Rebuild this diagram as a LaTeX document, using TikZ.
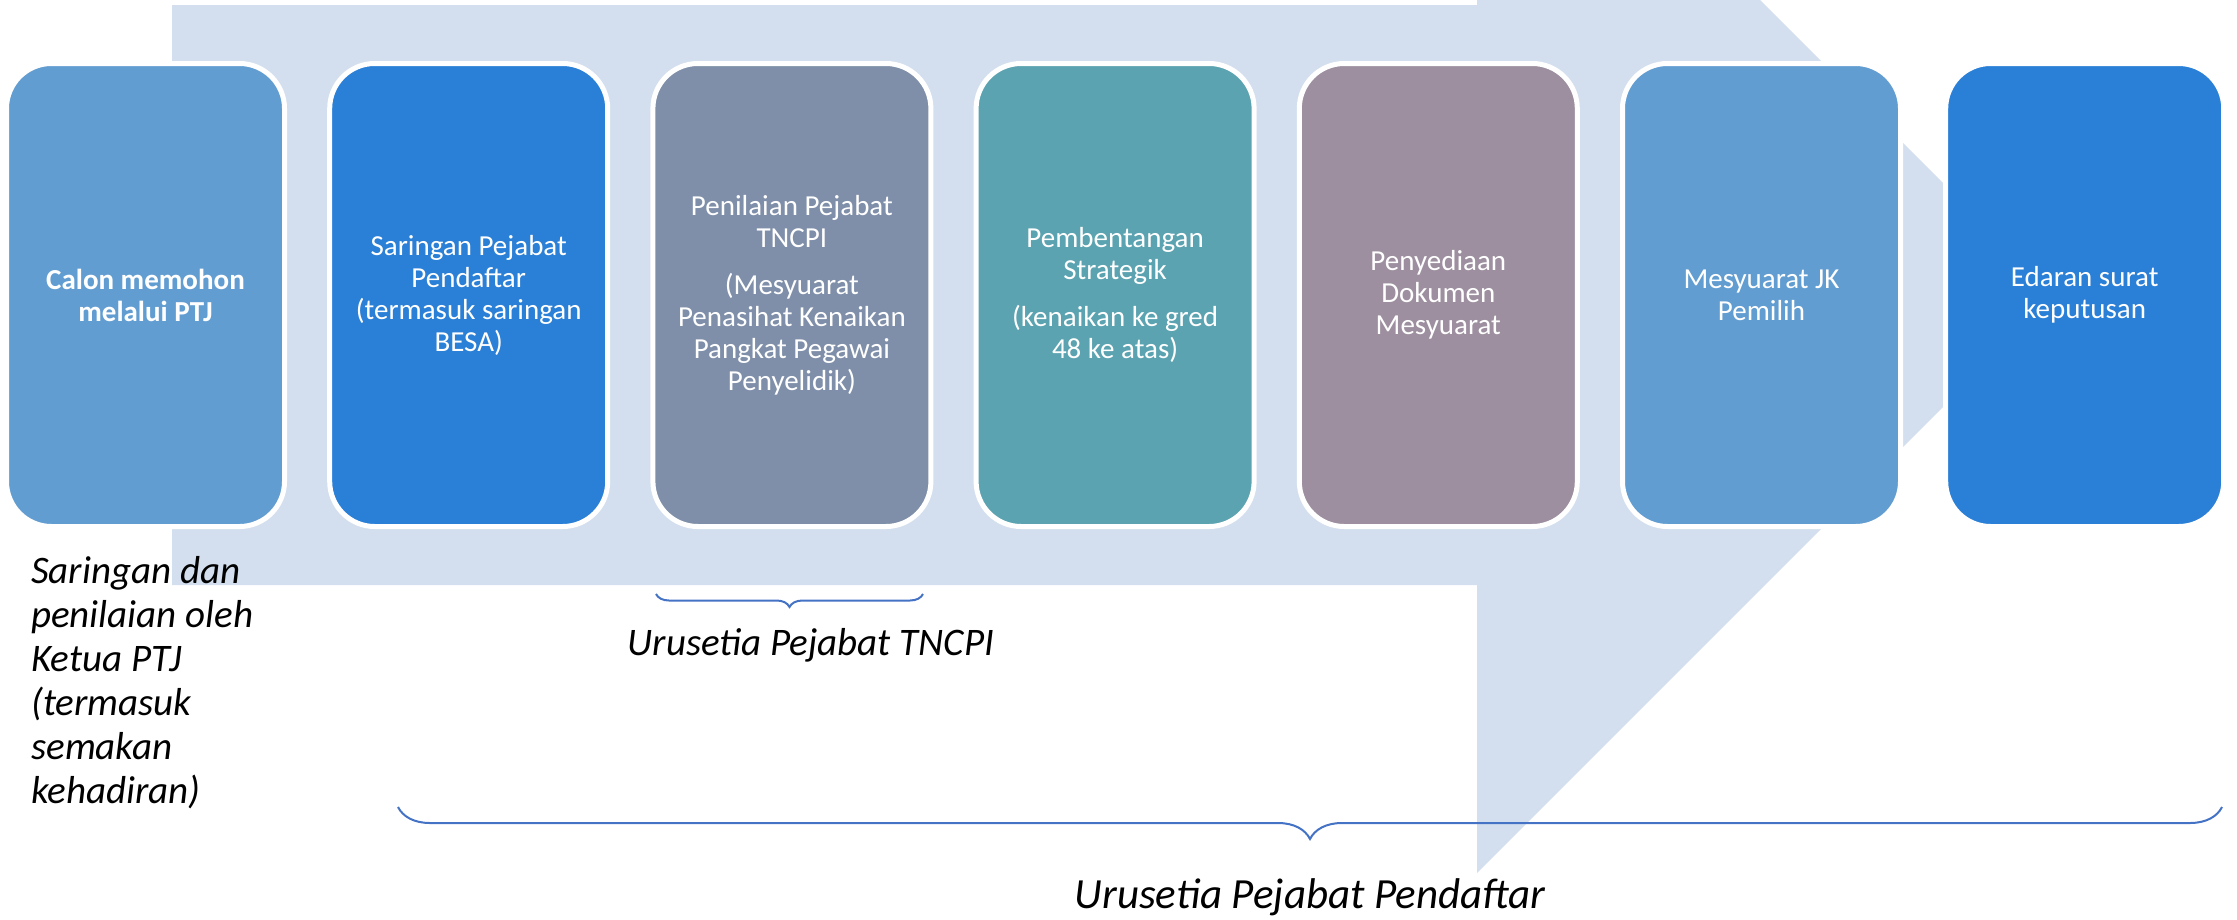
\documentclass[tikz,border=0pt]{standalone}
\usepackage{fontspec}
\setmainfont{Carlito}
\usetikzlibrary{positioning,decorations.pathreplacing}

% warna
\definecolor{latar}{HTML}{D3DFEE}
\definecolor{biruA}{HTML}{629DD1}
\definecolor{biruB}{HTML}{2A7FD6}
\definecolor{kelabu}{HTML}{7F8FA9}
\definecolor{hijau}{HTML}{5BA3B0}
\definecolor{ungu}{HTML}{9D8F9F}
\definecolor{garis}{HTML}{4472C4}

\tikzset{
	langkah/.style={draw=white, line width=5pt, rounded corners=45pt,
		minimum width=278pt, minimum height=463pt, inner sep=0pt,
		text=white, align=center, font=\fontsize{29}{32}\selectfont},
	kurungan/.style={draw=garis, line width=2pt, decorate,
		decoration={brace, mirror, amplitude=#1}},
	nota/.style={inner sep=0pt, font=\fontsize{39}{44}\selectfont\itshape}
}

\begin{document}
\begin{tikzpicture}[x=1pt, y=-1pt]
			\useasboundingbox (0,0) rectangle (2237,919);

			% anak panah latar
			\begin{scope}
				\clip (0,0) rectangle (2237,919);
				\fill[latar] (172,5) -- (1477,5) -- (1477,-283) -- (2055,295)
					-- (1477,873) -- (1477,585) -- (172,585) -- cycle;
			\end{scope}

			% langkah proses
			\node[langkah, fill=biruA] (calon) at (145.5,295)
				{\bfseries Calon memohon\\\bfseries melalui PTJ};
			\node[langkah, fill=biruB] (saringan) at (468.7,295)
				{Saringan Pejabat\\Pendaftar\\(termasuk saringan\\BESA)};
			\node[langkah, fill=kelabu] (penilaian) at (791.9,295)
				{Penilaian Pejabat\\TNCPI\\[15pt](Mesyuarat\\Penasihat Kenaikan\\Pangkat Pegawai\\Penyelidik)};
			\node[langkah, fill=hijau] (pembentangan) at (1115.1,295)
				{Pembentangan\\Strategik\\[15pt](kenaikan ke gred\\48 ke atas)};
			\node[langkah, fill=ungu] (penyediaan) at (1438.3,295)
				{Penyediaan\\Dokumen\\Mesyuarat};
			\node[langkah, fill=biruA] (mesyuarat) at (1761.5,295)
				{Mesyuarat JK\\Pemilih};
			\node[langkah, fill=biruB] (edaran) at (2084.7,295)
				{Edaran surat\\keputusan};

			% nota kiri
			\node[nota, anchor=north west, align=left] (notaPTJ) at (31,556)
				{Saringan dan\\penilaian oleh\\Ketua PTJ\\(termasuk\\semakan\\kehadiran)};

			% kurungan TNCPI
			\coordinate (tncpiKiri) at (656,594);
			\coordinate (tncpiKanan) at (923,594);
			\draw[kurungan=13pt] (tncpiKiri) -- (tncpiKanan);
			\node[nota, anchor=base] (notaTNCPI) at (811,655) {Urusetia Pejabat TNCPI}; %label

			% kurungan Pendaftar
			\coordinate (daftarKiri) at (398,807);
			\coordinate (daftarKanan) at (2222,807);
			\draw[kurungan=32pt] (daftarKiri) -- (daftarKanan);
			\node[nota, anchor=base, font=\fontsize{43}{50}\selectfont\itshape] (notaDaftar) at (1310,908)
				{Urusetia Pejabat Pendaftar}; %label
\end{tikzpicture}
\end{document}
